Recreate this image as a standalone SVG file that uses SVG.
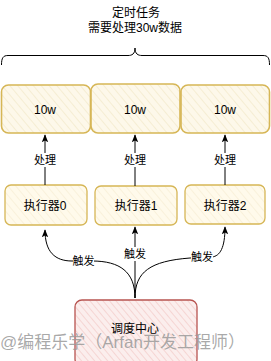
<svg xmlns="http://www.w3.org/2000/svg" width="271" height="361" viewBox="0 0 271 361">
<style>
text{font-family:"Liberation Sans","Noto Sans CJK SC",sans-serif;fill:#000;text-anchor:middle;dominant-baseline:central}
.t12{font-size:12px}
.t11{font-size:11px}
.yb{fill:url(#hy);stroke:#d6b656;stroke-width:1.6}
.yb2{fill:url(#hy2);stroke:#d6b656;stroke-width:1.3}
.rb{fill:url(#hr);stroke:#b85450;stroke-width:1.3}
.edge{fill:none;stroke:#000;stroke-width:1}
.lbl{fill:#fff}
.wm{font-size:17px;fill:#9a9a9a;fill-opacity:0.85;text-anchor:start}
</style>
<defs>
<pattern id="hy" width="6" height="6" patternUnits="userSpaceOnUse" patternTransform="rotate(-40)">
<rect width="6" height="6" fill="#fdf8ea"/>
<line x1="0" y1="0" x2="0" y2="6" stroke="#f1e6c4" stroke-width="1.2"/>
</pattern>
<pattern id="hy2" width="6" height="6" patternUnits="userSpaceOnUse" patternTransform="rotate(-40)">
<rect width="6" height="6" fill="#fffaeb"/>
<line x1="0" y1="0" x2="0" y2="6" stroke="#f6ecd0" stroke-width="1.2"/>
</pattern>
<pattern id="hr" width="5" height="5" patternUnits="userSpaceOnUse" patternTransform="rotate(-40)">
<rect width="5" height="5" fill="#fbeeed"/>
<line x1="0" y1="0" x2="0" y2="5" stroke="#efbdba" stroke-width="1"/>
</pattern>
<marker id="ah" viewBox="0 0 10 10" refX="9" refY="5" markerWidth="8" markerHeight="8" orient="auto" markerUnits="userSpaceOnUse">
<path d="M0,1 L10,5 L0,9 L2,5 Z" fill="#000"/>
</marker>
</defs>

<g id="title">
<text class="t12" x="136" y="13">定时任务</text>
<text class="t12" x="135" y="28">需要处理30w数据</text>
</g>

<g id="brace">
<path class="edge" d="M1.5,65 C1.5,58 3,55.5 8,55.5 L128,55.5 C132,55.5 135,54 135,48 C135,54 138,55.5 142,55.5 L263,55.5 C268,55.5 269.5,58 269.5,65"/>
</g>

<g id="data0"><rect class="yb" x="1.5" y="85" width="89" height="48" rx="7"/><text class="t12" x="45" y="110">10w</text></g>
<g id="data1"><rect class="yb" x="91" y="84" width="89" height="49" rx="7"/><text class="t12" x="135" y="110">10w</text></g>
<g id="data2"><rect class="yb" x="181" y="85" width="88.5" height="48" rx="7"/><text class="t12" x="225" y="110">10w</text></g>

<g id="exec0"><rect class="yb2" x="5" y="185" width="82" height="40" rx="6"/><text class="t12" x="45" y="206">执行器0</text></g>
<g id="exec1"><rect class="yb2" x="95" y="186" width="82" height="39" rx="6"/><text class="t12" x="136" y="206">执行器1</text></g>
<g id="exec2"><rect class="yb2" x="185" y="185" width="80" height="39" rx="6"/><text class="t12" x="225" y="206">执行器2</text></g>

<g id="scheduler"><rect class="rb" x="75" y="300" width="122" height="66" rx="7"/><text class="t12" x="135" y="329">调度中心</text></g>

<g id="connectors">
<path class="edge" d="M45,185 L45,135" marker-end="url(#ah)"/>
<path class="edge" d="M135,186 L135,135" marker-end="url(#ah)"/>
<path class="edge" d="M225,185 L225,135" marker-end="url(#ah)"/>
<path class="edge" d="M135,298 C135,272 120,261 92,261 L72,261 C55,261 45,252 45,230" marker-end="url(#ah)"/>
<path class="edge" d="M135,298 L135,227" marker-end="url(#ah)"/>
<path class="edge" d="M135,298 C135,272 150,261 190,258 L212,257 C220,256 225,248 225,227" marker-end="url(#ah)"/>
<rect class="lbl" x="33" y="153" width="24" height="14"/><text class="t11" x="45" y="160">处理</text>
<rect class="lbl" x="123" y="153" width="24" height="14"/><text class="t11" x="135" y="160">处理</text>
<rect class="lbl" x="213" y="153" width="24" height="14"/><text class="t11" x="225" y="160">处理</text>
<rect class="lbl" x="73" y="254" width="21" height="14"/><text class="t11" x="83.5" y="261">触发</text>
<rect class="lbl" x="124" y="247" width="22" height="14"/><text class="t11" x="135" y="254">触发</text>
<rect class="lbl" x="191" y="250" width="22" height="14"/><text class="t11" x="202" y="257">触发</text>
</g>

<text class="wm" x="0" y="342">@编程乐学（Arfan开发工程师）</text>
</svg>
